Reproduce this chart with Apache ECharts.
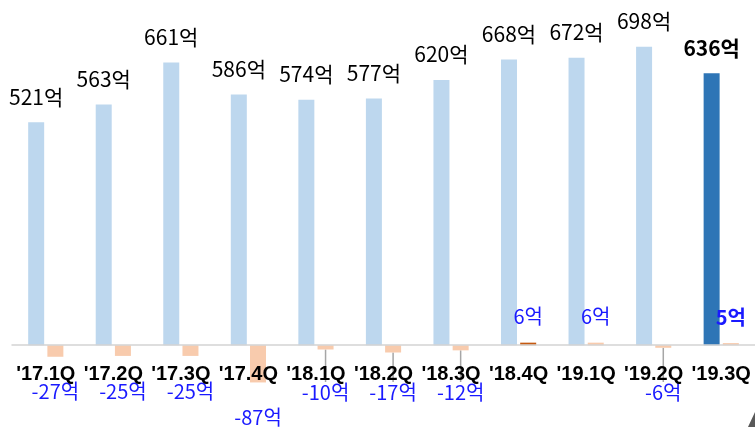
<!DOCTYPE html>
<html>
<head>
<meta charset="utf-8">
<script src="https://cdn.jsdelivr.net/npm/echarts@6/dist/echarts.min.js"></script>
<style>
  html, body { margin: 0; padding: 0; background: #fff; }
  #chart { width: 755px; height: 427px; }
</style>
</head>
<body>
<div id="chart"></div>
<script>
// 분기
const quarters = ["'17.1Q", "'17.2Q", "'17.3Q", "'17.4Q", "'18.1Q", "'18.2Q", "'18.3Q", "'18.4Q", "'19.1Q", "'19.2Q", "'19.3Q"];
// 매출 (억)
const sales = [521, 563, 661, 586, 574, 577, 620, 668, 672, 698, 636];
// 영업이익 (억)
const profit = [-27, -25, -25, -87, -10, -17, -12, 6, 6, -6, 5];
// 라벨에 가이드선이 있는 분기
const leaderIdx = [4, 5, 6, 9];

const lastIdx = quarters.length - 1;
const cjk = "'Noto Sans CJK KR', sans-serif";

const salesData = sales.map((v, i) => {
  if (i !== lastIdx) return v;
  return {
    value: v,
    itemStyle: { color: "#2E75B6" },
    label: { fontWeight: "bold" },
  };
});

const profitData = profit.map((v, i) => {
  let item = {
    value: v,
    label: v < 0
      ? { position: "bottom", distance: 25 }
      : { position: "top", distance: 16 },
  };
  if (i === 7) item.itemStyle = { color: "#C55A11" };
  if (i === lastIdx) item.label.fontWeight = "bold";
  if (leaderIdx.includes(i)) {
    item.label.distance = 2;
    item.labelLine = { show: true };
  }
  return item;
});

const myChart = echarts.init(document.getElementById("chart"));
const option = {
  animation: false,
  grid: { left: 12, width: 745, top: 3, height: 385 },
  xAxis: {
    type: "category",
    data: quarters,
    z: 5,
    axisTick: { show: false },
    axisLine: { lineStyle: { color: "#d4d4d4", width: 1.5 } },
    axisLabel: {
      margin: -24,
      color: "#000",
      fontSize: 20,
      fontWeight: "bold",
      fontFamily: "'Liberation Sans', sans-serif",
      interval: 0,
    },
  },
  yAxis: {
    type: "value",
    min: -100,
    max: 800,
    show: false,
    splitLine: { show: false },
  },
  series: [
    {
      name: "매출",
      type: "bar",
      data: salesData,
      barWidth: 16,
      barGap: "20%",
      itemStyle: { color: "#BDD7EE" },
      label: {
        show: true,
        position: "top",
        distance: 15,
        color: "#000",
        fontSize: 21,
        fontFamily: cjk,
        formatter: (p) => p.value + "억",
      },
    },
    {
      name: "영업이익",
      type: "bar",
      data: profitData,
      barWidth: 16,
      itemStyle: { color: "#F8CBAD" },
      label: {
        show: true,
        color: "#1a1aff",
        fontSize: 20,
        fontFamily: cjk,
        formatter: (p) => p.value + "억",
      },
      labelLine: {
        show: false,
        lineStyle: { color: "#a6a6a6", width: 1.5 },
      },
      labelLayout: (params) => {
        if (params.seriesIndex === 1 && leaderIdx.includes(params.dataIndex)) {
          const r = params.labelRect;
          return { dy: 392 - (r.y + r.height / 2) };
        }
        return {};
      },
    },
  ],
  graphic: [
    {
      type: "polygon",
      shape: { points: [[748, 427], [755, 412], [755, 427]] },
      style: { fill: "#595959" },
    },
  ],
};
myChart.setOption(option);
</script>
</body>
</html>
